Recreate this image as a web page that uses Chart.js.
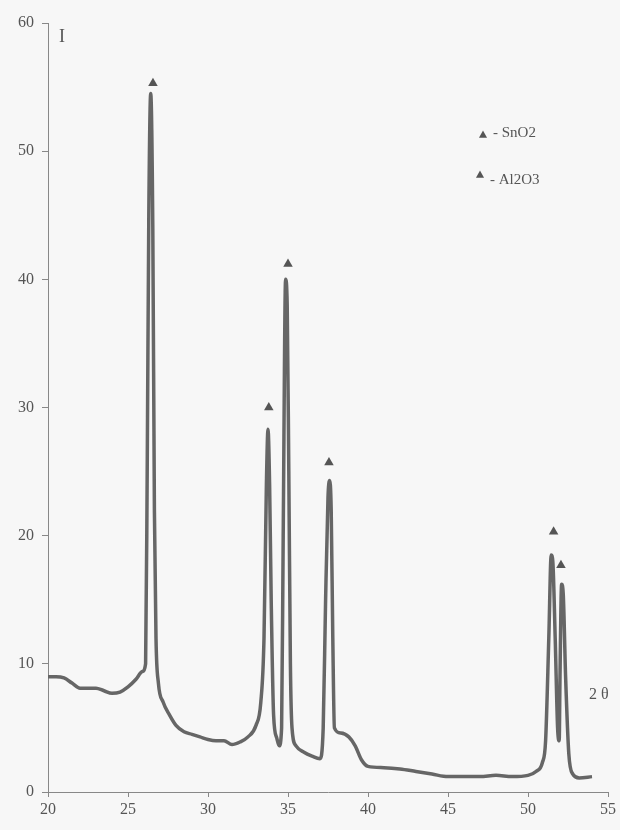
<!DOCTYPE html>
<html>
<head>
<meta charset="utf-8">
<script src="https://cdn.jsdelivr.net/npm/chart.js@4"></script>
<style>
  html, body { margin: 0; padding: 0; background: #f7f7f7; }
  #wrap { width: 620px; height: 830px; position: relative; }
</style>
</head>
<body>
<div id="wrap"><canvas id="xrd" width="620" height="830"></canvas></div>
<script>
// diffraction pattern
const twoTheta = [20.0, 20.5, 21.0, 21.5, 22.0, 22.5, 23.0, 23.5, 24.0, 24.5, 25.0, 25.5, 25.9, 26.1,
  26.2, 26.3, 26.42, 26.55, 26.65, 26.75, 26.9, 27.2, 27.6, 28.0, 28.5, 29.0, 29.5, 30.0, 30.5, 31.0,
  31.5, 32.0, 32.5, 33.0, 33.3, 33.5, 33.65, 33.75, 33.85, 33.95, 34.1, 34.3, 34.45, 34.6, 34.7,
  34.85, 34.95, 35.05, 35.15, 35.25, 35.5, 36.0, 36.5, 37.0, 37.2, 37.35, 37.5, 37.6, 37.7, 37.8,
  37.9, 38.3, 38.8, 39.2, 39.6, 40.0, 41.0, 42.0, 43.0, 44.0, 45.0, 46.0, 47.0, 48.0, 49.0, 50.0,
  50.5, 50.9, 51.1, 51.3, 51.45, 51.55, 51.7, 51.85, 51.95, 52.0, 52.1, 52.2, 52.35, 52.55, 52.8,
  53.2, 54.0];
const intensity = [9.0, 9.0, 8.9, 8.5, 8.1, 8.1, 8.1, 7.9, 7.7, 7.8, 8.2, 8.8, 9.4, 10.0,
  25, 45, 54.5, 44, 22, 12, 8.5, 7.0, 6.0, 5.2, 4.7, 4.5, 4.3, 4.1, 4.0, 4.0,
  3.7, 3.9, 4.3, 5.2, 7.0, 12, 24, 28.3, 24, 15, 6, 4.2, 3.6, 5, 20,
  40, 38, 25, 10, 5, 3.6, 3.1, 2.8, 2.6, 5, 15, 23, 24.3, 22, 12,
  5, 4.6, 4.3, 3.6, 2.5, 2.0, 1.9, 1.8, 1.6, 1.4, 1.2, 1.2, 1.2, 1.3, 1.2, 1.3,
  1.6, 2.3, 4, 12, 18.5, 18, 12, 5, 4.0, 9, 16.2, 15.5, 9, 3, 1.4,
  1.1, 1.2];

// peak marks
const sno2X = [26.56, 33.8, 37.56, 51.6];
const sno2Y = [55.3, 30.0, 25.7, 20.3];
const al2o3X = [35.0, 52.06];
const al2o3Y = [41.2, 17.7];

const xTicks = [20, 25, 30, 35, 40, 45, 50, 55];
const yTicks = [0, 10, 20, 30, 40, 50, 60];

const ink = '#555';
const serif = '"Liberation Serif", "DejaVu Serif", serif';

function tri(ctx, x, y, s) {
  ctx.beginPath();
  ctx.moveTo(x, y - s);
  ctx.lineTo(x + s * 0.9, y + s * 0.6);
  ctx.lineTo(x - s * 0.9, y + s * 0.6);
  ctx.closePath();
  ctx.fill();
}

const labelsPlugin = {
  id: 'labels',
  afterDraw(chart) {
    const ctx = chart.ctx;
    ctx.save();
    ctx.fillStyle = ink;
    ctx.textBaseline = 'middle';
    ctx.font = '18px ' + serif;
    ctx.fillText('I', 59, 37);
    ctx.font = '16px ' + serif;
    ctx.fillText('2 \u03b8', 589, 695);
    // legend
    ctx.font = '15px ' + serif;
    tri(ctx, 483, 135, 4.5);
    ctx.fillText('- SnO2', 493, 133);
    tri(ctx, 480, 175, 4.5);
    ctx.fillText('- Al2O3', 490, 180);
    ctx.restore();
  }
};

new Chart(document.getElementById('xrd'), {
  type: 'line',
  data: {
    datasets: [{
      label: 'I',
      data: twoTheta.map((x, i) => ({ x: x, y: intensity[i] })),
      borderColor: '#666',
      borderWidth: 3.5,
      pointRadius: 0,
      cubicInterpolationMode: 'monotone',
      fill: false
    }, {
      label: 'SnO2',
      type: 'scatter',
      data: sno2X.map((x, i) => ({ x: x, y: sno2Y[i] })),
      pointStyle: 'triangle',
      pointRadius: 5.5,
      backgroundColor: '#555',
      borderColor: '#555',
      borderWidth: 0
    }, {
      label: 'Al2O3',
      type: 'scatter',
      data: al2o3X.map((x, i) => ({ x: x, y: al2o3Y[i] })),
      pointStyle: 'triangle',
      pointRadius: 5.5,
      backgroundColor: '#555',
      borderColor: '#555',
      borderWidth: 0
    }]
  },
  options: {
    responsive: false,
    animation: false,
    layout: { padding: { top: 23, right: 12, left: 0, bottom: 0 } },
    plugins: { legend: { display: false }, tooltip: { enabled: false } },
    scales: {
      x: {
        type: 'linear',
        min: 20, max: 55,
        afterBuildTicks: s => { s.ticks = xTicks.map(v => ({ value: v })); },
        afterFit: s => { s.height = 38; },
        ticks: { color: ink, font: { family: serif, size: 16 }, padding: 3, maxRotation: 0 },
        grid: { drawOnChartArea: false, tickLength: 5, color: '#888' },
        border: { color: '#888', width: 1 }
      },
      y: {
        min: 0, max: 60,
        afterBuildTicks: s => { s.ticks = yTicks.map(v => ({ value: v })); },
        afterFit: s => { s.width = 48; },
        ticks: { color: ink, font: { family: serif, size: 16 }, padding: 8 },
        grid: { drawOnChartArea: false, tickLength: 6, color: '#888' },
        border: { color: '#888', width: 1 }
      }
    }
  },
  plugins: [labelsPlugin]
});
</script>
</body>
</html>
